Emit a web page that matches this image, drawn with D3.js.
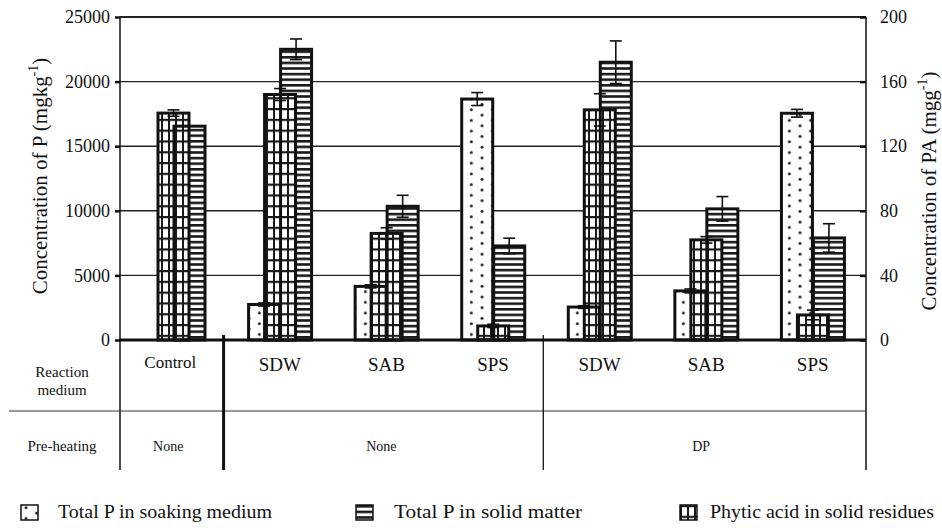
<!DOCTYPE html>
<head>
  <meta charset="utf-8">
  <script src="https://d3js.org/d3.v7.min.js"></script>
  <style>
    body { margin:0; background:#fff; }
    svg { display:block; }
    svg text { font-family: 'Liberation Serif', 'Times New Roman', serif !important; fill:#111; }
  </style>
</head>

<body>
  <svg width="942" height="528" font-family="Liberation Serif, serif"></svg>
  <script>
    // groups along the x axis
    var groups = ['Control', 'SDW', 'SAB', 'SPS', 'SDW', 'SAB', 'SPS'];
    // pre-heating spans (group index from / to)
    var preheat = [
      {label: 'None', from: 0, to: 1},
      {label: 'None', from: 1, to: 4},
      {label: 'DP', from: 4, to: 7}
    ];

    // Total P in soaking medium (mg/kg, left axis)
    var soak    = [null, 2750, 4150, 18650, 2550, 3800, 17550];
    var soakErr = [0, 120, 120, 500, 100, 150, 300];
    // Total P in solid matter (mg/kg, left axis)
    var solid    = [16550, 22500, 10350, 7280, 21500, 10150, 7900];
    var solidErr = [0, 800, 850, 600, 1650, 950, 1100];
    // Phytic acid in solid residues (mg/g, right axis)
    var pa    = [140.5, 152, 66, 8.7, 142.5, 62, 15.5];
    var paErr = [2, 3.7, 3.5, 1, 10, 2, 3];

    var pTicks  = [0, 5000, 10000, 15000, 20000, 25000];
    var paTicks = [0, 40, 80, 120, 160, 200];

    var margin = {top: 17, bottom: 340, left: 120, right: 866};
    var svg = d3.select('svg');
    var ink = '#111';
    var serif = "'Liberation Serif', 'Times New Roman', serif";

    var yP = d3.scaleLinear().domain([0, 25000]).range([margin.bottom, margin.top]);
    var yPA = d3.scaleLinear().domain([0, 200]).range([margin.bottom, margin.top]);
    var x = d3.scaleBand().domain(d3.range(groups.length)).range([margin.left, margin.right]);

    // bars inside a band overlap: start offset, step and width
    var barOff = 22, barStep = 16, barW = 31;

    // patterns
    var defs = svg.append('defs');
    var pd = defs.append('pattern').attr('id', 'dots').attr('patternUnits', 'userSpaceOnUse')
      .attr('width', 21.2).attr('height', 10.7);
    pd.append('rect').attr('width', 21.2).attr('height', 10.7).attr('fill', '#fff');
    pd.append('circle').attr('cx', 5).attr('cy', 2.6).attr('r', 1.5).attr('fill', '#222');
    pd.append('circle').attr('cx', 15.6).attr('cy', 8).attr('r', 1.5).attr('fill', '#222');

    var ps = defs.append('pattern').attr('id', 'stripes').attr('patternUnits', 'userSpaceOnUse')
      .attr('width', 4).attr('height', 5.6);
    ps.append('rect').attr('width', 4).attr('height', 5.6).attr('fill', '#fff');
    ps.append('rect').attr('width', 4).attr('height', 2.6).attr('fill', '#1a1a1a');

    var pg = defs.append('pattern').attr('id', 'grid').attr('patternUnits', 'userSpaceOnUse')
      .attr('width', 7).attr('height', 10.8);
    pg.append('rect').attr('width', 7).attr('height', 10.8).attr('fill', '#fff');
    pg.append('rect').attr('width', 2).attr('height', 10.8).attr('fill', '#1a1a1a');
    pg.append('rect').attr('width', 7).attr('height', 2.2).attr('fill', '#1a1a1a');

    // gridlines
    svg.append('g').selectAll('line')
      .data(pTicks.slice(1))
      .enter().append('line')
      .attr('x1', margin.left).attr('x2', margin.right)
      .attr('y1', d => yP(d)).attr('y2', d => yP(d))
      .attr('stroke', '#222').attr('stroke-width', 1.4);

    // series definitions
    var series = [
      {key: 'soak', vals: soak, errs: soakErr, y: yP, fill: 'url(#dots)', k: 0},
      {key: 'solid', vals: solid, errs: solidErr, y: yP, fill: 'url(#stripes)', k: 2},
      {key: 'pa', vals: pa, errs: paErr, y: yPA, fill: 'url(#grid)', k: 1}
    ];

    function barData(s) {
      return s.vals.map((v, i) => ({i: i, v: v, e: s.errs[i], s: s}))
        .filter(d => d.v != null);
    }

    var bx = d => x(d.i) + barOff + d.s.k * barStep;

    // fills
    series.forEach(s => {
      svg.append('g').selectAll('rect')
        .data(barData(s))
        .enter().append('rect')
        .attr('x', bx)
        .attr('y', d => s.y(d.v))
        .attr('width', barW)
        .attr('height', d => margin.bottom - s.y(d.v))
        .attr('fill', s.fill);
    });
    // outlines
    series.forEach(s => {
      svg.append('g').selectAll('rect')
        .data(barData(s))
        .enter().append('rect')
        .attr('x', bx)
        .attr('y', d => s.y(d.v))
        .attr('width', barW)
        .attr('height', d => margin.bottom - s.y(d.v))
        .attr('fill', 'none')
        .attr('stroke', ink).attr('stroke-width', 3);
    });
    // error bars
    series.forEach(s => {
      var g = svg.append('g').attr('stroke', ink).attr('stroke-width', 1.6);
      var eb = g.selectAll('g').data(barData(s).filter(d => d.e > 0)).enter().append('g');
      eb.append('line')
        .attr('x1', d => bx(d) + barW / 2).attr('x2', d => bx(d) + barW / 2)
        .attr('y1', d => s.y(d.v + d.e)).attr('y2', d => s.y(d.v - d.e));
      eb.append('line')
        .attr('x1', d => bx(d) + barW / 2 - 6).attr('x2', d => bx(d) + barW / 2 + 6)
        .attr('y1', d => s.y(d.v + d.e)).attr('y2', d => s.y(d.v + d.e));
      eb.append('line')
        .attr('x1', d => bx(d) + barW / 2 - 6).attr('x2', d => bx(d) + barW / 2 + 6)
        .attr('y1', d => s.y(d.v - d.e)).attr('y2', d => s.y(d.v - d.e));
    });

    // frame: top line, left axis, right axis, baseline
    svg.append('line').attr('x1', margin.left).attr('x2', margin.right)
      .attr('y1', margin.top).attr('y2', margin.top).attr('stroke', ink).attr('stroke-width', 1.3);
    svg.append('line').attr('x1', margin.left).attr('x2', margin.left)
      .attr('y1', margin.top).attr('y2', 470).attr('stroke', ink).attr('stroke-width', 1.5);
    svg.append('line').attr('x1', margin.right).attr('x2', margin.right)
      .attr('y1', margin.top).attr('y2', 470).attr('stroke', ink).attr('stroke-width', 1.5);
    svg.append('line').attr('x1', margin.left).attr('x2', margin.right)
      .attr('y1', margin.bottom).attr('y2', margin.bottom).attr('stroke', ink).attr('stroke-width', 3);

    // axes
    var yAxisL = d3.axisLeft(yP).tickValues(pTicks).tickFormat(d3.format('d')).tickSize(5).tickPadding(5);
    var gl = svg.append('g').attr('transform', 'translate(' + [margin.left, 0] + ')').call(yAxisL);
    var yAxisR = d3.axisRight(yPA).tickValues(paTicks).tickFormat(d3.format('d'))
      .tickSizeInner(-6).tickSizeOuter(0).tickPadding(14);
    var gr = svg.append('g').attr('transform', 'translate(' + [margin.right, 0] + ')').call(yAxisR);
    [gl, gr].forEach(g => {
      g.attr('font-family', serif).attr('font-size', 18);
      g.select('.domain').remove();
      g.selectAll('.tick line').attr('stroke', ink).attr('stroke-width', 2.5);
      g.selectAll('.tick text').attr('fill', ink);
    });

    // axis titles
    var tl = svg.append('text').attr('transform', 'translate(40,176) rotate(-90)')
      .attr('text-anchor', 'middle').attr('dominant-baseline', 'central').attr('font-size', 21);
    tl.append('tspan').text('Concentration of P (mgkg');
    tl.append('tspan').attr('font-size', 14).attr('dy', -7).text('-1');
    tl.append('tspan').attr('dy', 7).text(')');

    var tr = svg.append('text').attr('transform', 'translate(929,191) rotate(-90)')
      .attr('text-anchor', 'middle').attr('dominant-baseline', 'central').attr('font-size', 21);
    tr.append('tspan').text('Concentration of PA (mgg');
    tr.append('tspan').attr('font-size', 14).attr('dy', -7).text('-1');
    tr.append('tspan').attr('dy', 7).text(')');

    // table beneath the axis
    svg.append('line').attr('x1', 9).attr('x2', margin.right)
      .attr('y1', 411).attr('y2', 411).attr('stroke', '#333').attr('stroke-width', 1.2);
    // dividers between pre-heating spans
    svg.append('g').selectAll('line')
      .data(preheat.slice(1))
      .enter().append('line')
      .attr('x1', d => x(d.from) - 3).attr('x2', d => x(d.from) - 3)
      .attr('y1', 335).attr('y2', 470)
      .attr('stroke', ink).attr('stroke-width', (d, i) => i === 0 ? 3 : 1.3);

    svg.append('g').selectAll('text')
      .data(groups)
      .enter().append('text')
      .attr('x', (d, i) => x(i) + x.bandwidth() / 2 - (i === 0 ? 3 : 0))
      .attr('y', (d, i) => i === 0 ? 368 : 371)
      .attr('text-anchor', 'middle')
      .attr('font-size', (d, i) => i === 0 ? 17 : 19)
      .text(d => d);

    svg.append('g').selectAll('text')
      .data(preheat)
      .enter().append('text')
      .attr('x', d => (x(d.from) + x(d.to - 1) + x.bandwidth()) / 2 - 5)
      .attr('y', 451)
      .attr('text-anchor', 'middle')
      .attr('font-size', 14)
      .text(d => d.label);

    svg.append('text').attr('x', 62).attr('y', 377).attr('text-anchor', 'middle')
      .attr('font-size', 15).text('Reaction');
    svg.append('text').attr('x', 62).attr('y', 395).attr('text-anchor', 'middle')
      .attr('font-size', 15).text('medium');
    svg.append('text').attr('x', 62).attr('y', 451).attr('text-anchor', 'middle')
      .attr('font-size', 15).text('Pre-heating');

    // legend
    var legend = [
      {label: 'Total P in soaking medium', fill: 'url(#dots)', x: 21, tx: 37, w: 214},
      {label: 'Total P in solid matter', fill: 'url(#stripes)', x: 356, tx: 38, w: 188},
      {label: 'Phytic acid in solid residues', fill: 'url(#grid)', x: 680, tx: 30, w: 224}
    ];
    var lg = svg.append('g').selectAll('g').data(legend).enter().append('g')
      .attr('transform', d => 'translate(' + [d.x, 505] + ')');
    lg.append('rect').attr('width', 17).attr('height', 15)
      .attr('fill', d => d.fill).attr('stroke', ink).attr('stroke-width', 1.5);
    lg.append('text').attr('x', d => d.tx).attr('y', 13).attr('font-size', 19)
      .attr('textLength', d => d.w).attr('lengthAdjust', 'spacingAndGlyphs')
      .text(d => d.label);
  </script>
</body>
